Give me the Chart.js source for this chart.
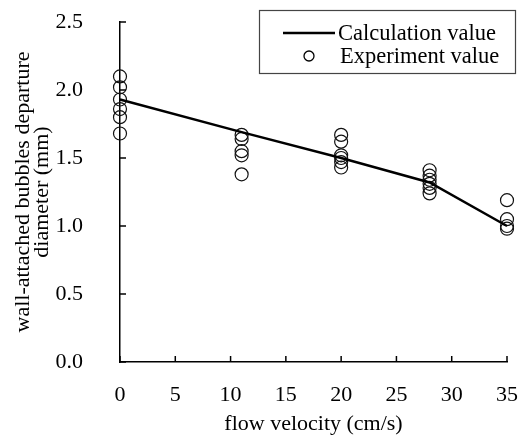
<!DOCTYPE html>
<html>
<head>
<meta charset="utf-8">
<script src="https://cdn.jsdelivr.net/npm/chart.js@4"></script>
<style>
  html, body { margin: 0; padding: 0; background: #fff; }
  #wrap { width: 519px; height: 437px; }
</style>
</head>
<body>
<div id="wrap"><canvas id="c"></canvas></div>
<script>
// calculation curve
const calcX = [0, 11, 20, 28, 35];
const calcY = [1.93, 1.69, 1.50, 1.32, 1.00];

// experiment points
const expX = [0, 0, 0, 0, 0, 0,
  11, 11, 11, 11, 11,
  20, 20, 20, 20, 20, 20,
  28, 28, 28, 28, 28, 28,
  35, 35, 35, 35];
const expY = [2.10, 2.02, 1.93, 1.86, 1.80, 1.68,
  1.67, 1.64, 1.55, 1.52, 1.38,
  1.67, 1.62, 1.52, 1.50, 1.47, 1.43,
  1.41, 1.37, 1.34, 1.31, 1.28, 1.24,
  1.19, 1.05, 1.00, 0.98];

const xTicks = [0, 5, 10, 15, 20, 25, 30, 35];
const yTicks = [0.0, 0.5, 1.0, 1.5, 2.0, 2.5];

const FONT = "'Liberation Serif', 'Times New Roman', serif";
const FS = 22;

// inward tick marks + boxed legend
const extras = {
  id: "extras",
  afterDraw(chart) {
    const ctx = chart.ctx;
    const xs = chart.scales.x, ys = chart.scales.y;
    const a = chart.chartArea;
    ctx.save();
    ctx.strokeStyle = "#000";
    ctx.lineWidth = 1.5;
    xTicks.forEach(v => {
      const px = xs.getPixelForValue(v);
      ctx.beginPath(); ctx.moveTo(px, a.bottom); ctx.lineTo(px, a.bottom - 6); ctx.stroke();
    });
    yTicks.forEach(v => {
      const py = ys.getPixelForValue(v);
      ctx.beginPath(); ctx.moveTo(a.left, py); ctx.lineTo(a.left + 6, py); ctx.stroke();
    });

    // legend
    ctx.fillStyle = "#fff";
    ctx.fillRect(259, 10, 257, 64);
    ctx.strokeStyle = "#444";
    ctx.lineWidth = 1.2;
    ctx.strokeRect(259.5, 10.5, 256, 63);
    ctx.strokeStyle = "#000";
    ctx.lineWidth = 2.5;
    ctx.beginPath(); ctx.moveTo(283, 33); ctx.lineTo(335, 33); ctx.stroke();
    ctx.lineWidth = 1.3;
    ctx.beginPath(); ctx.arc(309, 56, 5, 0, Math.PI * 2); ctx.stroke();
    ctx.fillStyle = "#000";
    ctx.font = "22.5px " + FONT;
    ctx.textBaseline = "middle";
    ctx.fillText(chart.data.datasets[0].label, 338, 34);
    ctx.fillText(chart.data.datasets[1].label, 340, 57);
    ctx.restore();
  }
};

new Chart(document.getElementById("c"), {
  type: "scatter",
  data: {
    datasets: [
      {
        label: "Calculation value",
        data: calcX.map((x, i) => ({ x: x, y: calcY[i] })),
        showLine: true,
        borderColor: "#000",
        borderWidth: 2.5,
        pointRadius: 0,
        clip: false,
        order: 0
      },
      {
        label: "Experiment value",
        data: expX.map((x, i) => ({ x: x, y: expY[i] })),
        pointStyle: "circle",
        pointRadius: 6.5,
        pointBorderWidth: 1.2,
        pointBorderColor: "#111",
        pointBackgroundColor: "rgba(0,0,0,0)",
        clip: false,
        order: 1
      }
    ]
  },
  options: {
    responsive: true, maintainAspectRatio: false,
    animation: false,
    layout: { padding: { top: 22, right: 12, left: 0, bottom: 0 } },
    plugins: { legend: { display: false }, tooltip: { enabled: false } },
    scales: {
      x: {
        type: "linear", min: 0, max: 35,
        afterBuildTicks: s => { s.ticks = xTicks.map(v => ({ value: v })); },
        afterFit: s => { s.height = 75; s.paddingLeft = 0; s.paddingRight = 0; },
        grid: { display: true, drawOnChartArea: false, drawTicks: false },
        border: { display: true, color: "#000", width: 1.5 },
        ticks: { color: "#000", padding: 20, maxRotation: 0, font: { family: FONT, size: FS } },
        title: { display: true, text: "flow velocity (cm/s)", color: "#000", padding: { top: 2, bottom: 0 }, font: { family: FONT, size: FS } }
      },
      y: {
        type: "linear", min: 0, max: 2.5,
        afterBuildTicks: s => { s.ticks = yTicks.map(v => ({ value: v })); },
        afterFit: s => { s.width = 120; s.paddingTop = 0; s.paddingBottom = 0; },
        grid: { display: true, drawOnChartArea: false, drawTicks: false },
        border: { display: true, color: "#000", width: 1.5 },
        ticks: { color: "#000", padding: 37, font: { family: FONT, size: FS }, callback: v => v.toFixed(1) },
        title: { display: true, text: ["wall-attached bubbles departure", "diameter (mm)"], color: "#000", padding: { top: 13, bottom: 0 }, font: { family: FONT, size: FS, lineHeight: 0.9 } }
      }
    }
  },
  plugins: [extras]
});
</script>
</body>
</html>
